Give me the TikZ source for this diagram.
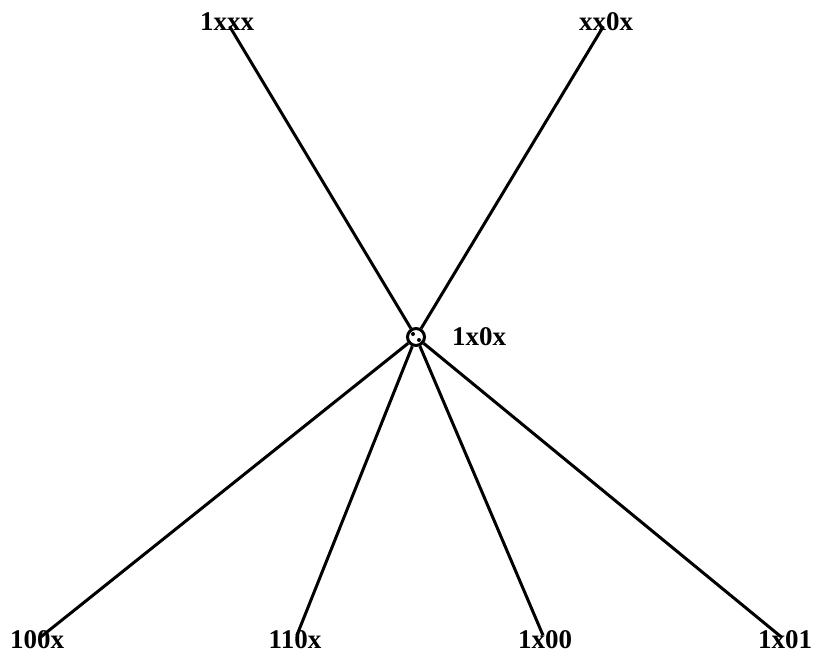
\documentclass[tikz,border=0pt]{standalone}
\usepackage{fontspec}
\setmainfont{Liberation Serif}
\usetikzlibrary{positioning}

\begin{document}
\begin{tikzpicture}[
    x=1pt, y=-1pt,
    lbl/.style={font=\fontsize{27}{29}\selectfont\bfseries, inner sep=0pt},
    hubnode/.style={circle, draw, line width=3pt, minimum size=17pt, inner sep=0pt},
    edge/.style={line width=3pt, shorten >=5pt}
]
    \useasboundingbox (0,0) rectangle (830,657);

    \node[hubnode] (hub) at (416,337) {};
    \fill (413,334) circle (2pt) (419,340) circle (2pt);
    \node[lbl, anchor=west] (mid) at (452,337) {1x0x};

    \node[lbl] (top1) at (227,22) {1xxx};
    \node[lbl] (top2) at (606,22) {xx0x};
    \node[lbl] (bot1) at (37,640) {100x};
    \node[lbl] (bot2) at (295,640) {110x};
    \node[lbl] (bot3) at (545,640) {1x00};
    \node[lbl] (bot4) at (785,640) {1x01};

    \draw[edge] (hub) -- (top1.center);
    \draw[edge] (hub) -- (top2.center);
    \draw[edge] (hub) -- (bot1.center);
    \draw[edge] (hub) -- (bot2.center);
    \draw[edge] (hub) -- (bot3.center);
    \draw[edge] (hub) -- (bot4.center);
\end{tikzpicture}
\end{document}
